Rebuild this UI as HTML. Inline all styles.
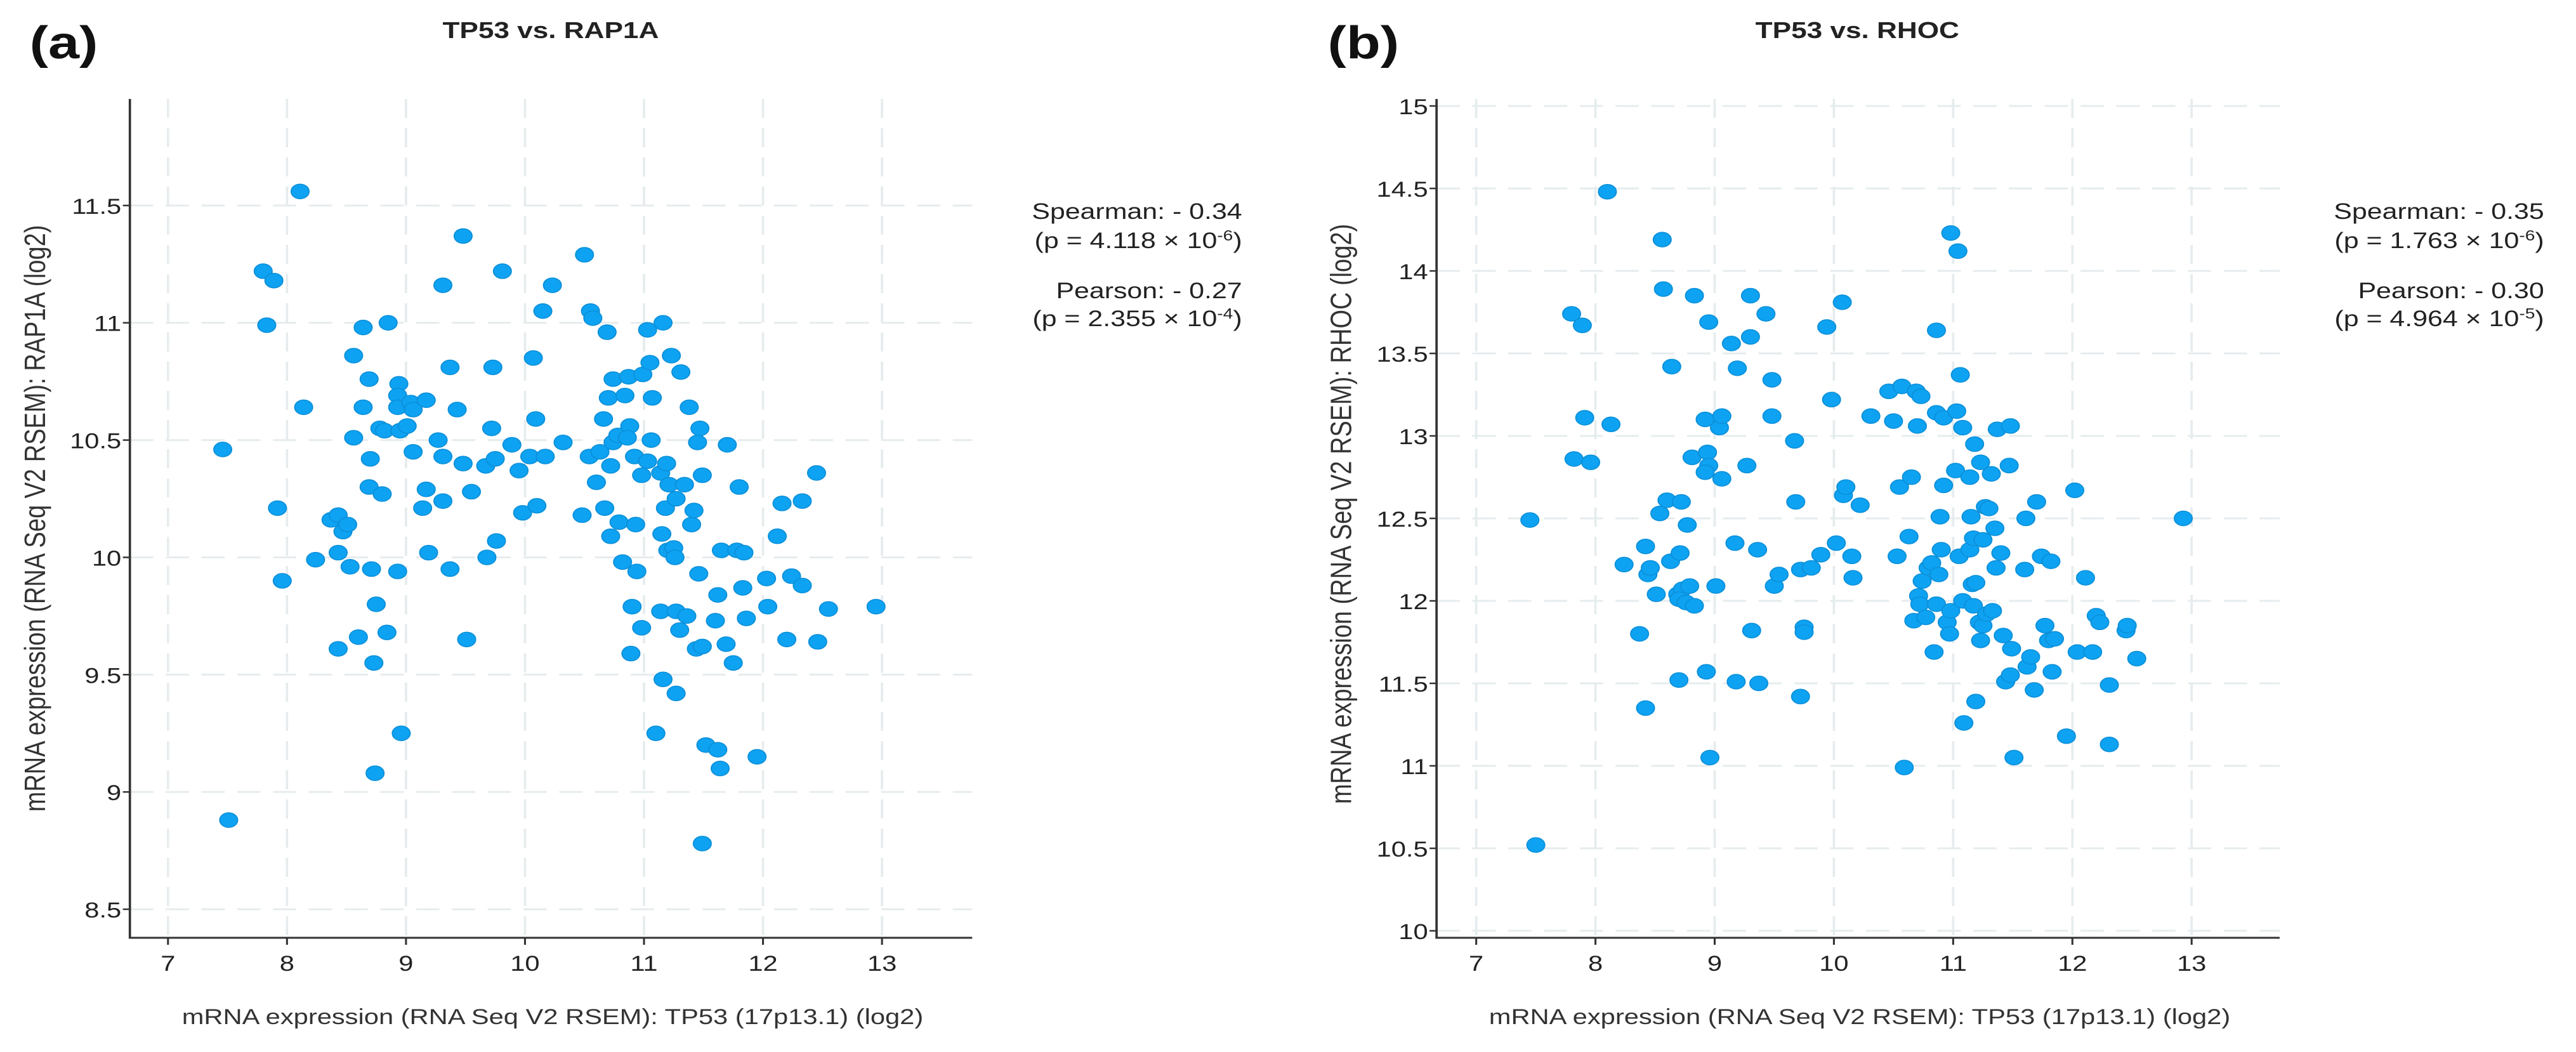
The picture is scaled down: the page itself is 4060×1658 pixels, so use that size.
<!DOCTYPE html>
<html><head><meta charset="utf-8"><style>
html,body{margin:0;padding:0;background:#fff;}
svg{display:block;font-family:"Liberation Sans",Arial,sans-serif;}
</style></head><body>
<svg id="fig" width="4060" height="1658" viewBox="0 0 3312 1658" preserveAspectRatio="none" xmlns="http://www.w3.org/2000/svg">
<rect width="3312" height="1658" fill="#fff"/>
<g id="pa"></g>
<g id="pb"></g>
</svg>
<script>
const xTicks = [7,8,9,10,11,12,13];
const yTicksA = [8.5,9,9.5,10,10.5,11,11.5];
const yTicksB = [10,10.5,11,11.5,12,12.5,13,13.5,14,14.5,15];
const xA = [8.11,7.80,7.89,7.83,8.14,7.46,7.92,7.96,7.51,8.24,8.37,8.43,8.47,8.51,8.43,8.53,8.43,8.60,8.73,8.74,8.75,8.84,8.71,8.93,8.96,8.56,8.64,8.85,8.69,8.64,8.56,8.70,8.69,8.80,8.78,8.82,8.94,8.93,8.93,8.95,9.01,9.04,9.06,9.06,9.17,9.14,9.17,9.19,9.27,9.31,9.31,9.31,9.37,9.37,9.43,9.48,9.48,9.55,9.51,9.67,9.75,9.73,9.72,9.81,9.76,9.68,9.89,9.95,9.98,10.04,10.07,10.09,10.10,10.17,10.15,10.23,10.32,10.48,10.50,10.55,10.57,10.54,10.60,10.63,10.66,10.69,10.70,10.72,10.74,10.72,10.67,10.74,10.78,10.79,10.84,10.87,10.82,10.88,10.86,10.92,10.93,10.99,10.94,10.90,10.89,10.98,10.98,11.03,11.05,11.03,11.06,11.07,11.10,11.16,11.14,11.19,11.15,11.18,11.20,11.14,11.16,11.23,11.21,11.25,11.27,11.27,11.31,11.26,11.27,11.30,11.34,11.36,11.38,11.40,11.42,11.45,11.47,11.49,11.46,11.44,11.49,11.52,11.49,11.62,11.62,11.64,11.60,11.69,11.65,11.70,11.75,11.78,11.80,11.83,11.84,11.86,11.95,12.03,12.04,12.12,12.16,12.20,12.24,12.33,12.33,12.45,12.46,12.55,12.95];
const yA = [11.56,11.22,11.18,10.99,10.64,10.46,10.21,9.90,8.88,9.99,10.16,10.18,10.11,10.14,10.02,9.96,9.61,9.66,9.55,9.08,9.80,9.68,9.95,9.94,9.25,10.86,10.98,11.00,10.76,10.64,10.51,10.42,10.30,10.27,10.55,10.54,10.74,10.69,10.64,10.54,10.56,10.66,10.63,10.45,10.67,10.21,10.29,10.02,10.50,10.43,10.24,11.16,10.81,9.95,10.63,11.37,10.40,10.28,9.65,10.39,10.42,10.81,10.55,11.22,10.07,10.00,10.48,10.37,10.19,10.43,10.85,10.59,10.22,10.43,11.05,11.16,10.49,10.18,11.29,11.05,11.02,10.43,10.32,10.45,10.59,10.96,10.68,10.39,10.76,10.09,10.21,10.49,10.52,10.15,10.69,10.77,9.98,10.56,10.51,10.43,10.14,10.78,9.94,9.79,9.59,9.70,10.35,10.97,10.83,10.41,10.50,10.68,9.25,11.00,10.36,10.40,10.10,10.21,10.03,9.77,9.48,10.86,10.31,10.04,9.42,10.25,10.79,10.00,9.77,9.69,10.31,9.75,10.64,10.14,10.20,10.49,10.55,10.35,9.93,9.61,9.62,9.20,8.78,9.84,9.18,9.10,9.73,9.63,10.03,10.48,9.55,10.03,10.30,9.87,10.02,9.74,9.15,9.91,9.79,10.09,10.23,9.65,9.92,10.24,9.88,10.36,9.64,9.78,9.79];
const xB = [8.10,8.56,8.57,7.80,7.89,8.64,7.91,8.13,7.82,7.96,7.45,7.50,8.24,8.37,8.42,8.42,8.44,8.46,8.51,8.54,8.60,8.72,8.77,8.63,8.71,8.69,8.73,8.70,8.76,8.79,8.83,8.81,8.83,8.70,8.93,8.96,8.92,8.94,8.95,8.92,8.95,9.01,9.04,9.06,9.06,9.14,9.19,9.17,9.18,9.27,9.30,9.30,9.31,9.36,9.37,9.43,9.48,9.48,9.50,9.54,9.67,9.68,9.72,9.72,9.75,9.75,9.81,9.89,9.94,9.98,10.02,10.07,10.08,10.10,10.15,10.16,10.22,10.31,10.46,10.50,10.53,10.55,10.57,10.59,10.63,10.65,10.67,10.69,10.70,10.73,10.71,10.72,10.74,10.77,10.79,10.82,10.84,10.86,10.86,10.86,10.88,10.89,10.90,10.92,10.92,10.95,10.97,10.98,10.98,11.02,11.03,11.04,11.05,11.06,11.08,11.08,11.09,11.14,11.14,11.15,11.16,11.17,11.17,11.18,11.19,11.19,11.22,11.23,11.23,11.25,11.25,11.27,11.28,11.30,11.32,11.33,11.35,11.36,11.37,11.40,11.42,11.44,11.47,11.48,11.48,11.49,11.51,11.60,11.61,11.62,11.65,11.68,11.70,11.74,11.77,11.80,11.82,11.83,11.85,11.95,12.02,12.04,12.11,12.17,12.20,12.23,12.31,12.31,12.45,12.46,12.54,12.93];
const yB = [14.48,14.19,13.89,13.74,13.67,13.42,13.11,13.07,12.86,12.84,12.49,10.52,12.22,11.80,11.35,12.33,12.16,12.20,12.04,12.53,12.61,12.60,12.46,12.24,12.29,12.04,12.07,12.01,11.99,12.09,11.97,12.87,13.85,11.52,11.57,11.05,13.10,12.90,12.82,12.78,13.69,12.09,13.05,13.12,12.74,13.56,13.41,12.35,11.51,12.82,13.85,13.60,11.82,12.31,11.50,13.74,13.34,13.12,12.09,12.16,12.97,12.60,11.42,12.19,11.84,11.81,12.20,12.28,13.66,13.22,12.35,13.81,12.64,12.69,12.27,12.14,12.58,13.12,13.27,13.09,12.27,12.69,13.30,10.99,12.39,12.75,11.88,13.27,13.06,13.24,12.03,11.98,12.12,11.90,12.20,12.23,11.69,13.64,13.14,11.98,12.16,12.51,12.31,12.70,13.11,11.87,11.80,14.23,11.94,12.79,13.15,14.12,12.27,13.37,13.05,12.00,11.26,12.31,12.75,12.51,12.10,11.97,12.38,12.95,12.11,11.39,11.87,12.84,11.76,12.37,11.85,12.57,11.92,12.56,12.77,11.94,12.44,12.20,13.04,12.29,11.79,11.51,12.82,13.06,11.55,11.71,11.05,12.19,12.50,11.60,11.66,11.46,12.60,12.27,11.85,11.76,12.24,11.57,11.77,11.18,12.67,11.69,12.14,11.69,11.91,11.87,11.49,11.13,11.82,11.85,11.65,12.50];

const NS='http://www.w3.org/2000/svg';
function mk(parent, tag, attrs, text){
  const el=document.createElementNS(NS,tag);
  for(const k in attrs) el.setAttribute(k, attrs[k]);
  if(text!==undefined) el.textContent=text;
  parent.appendChild(el); return el;
}
function panel(g, cfg){
  const sx=v=>cfg.x0+(v-cfg.xmin)*cfg.xs;
  const sy=v=>cfg.y0-(v-cfg.ymin)*cfg.ys;
  for(const t of xTicks){
    const l=mk(g,'line',{x1:sx(t),x2:sx(t),y1:cfg.top,y2:cfg.axY,stroke:'#e6ecee','stroke-width':3,'stroke-dasharray':'30 16'});
    
    
  }
  for(const t of cfg.yTicks){
    const l=mk(g,'line',{x1:cfg.axX,x2:cfg.right,y1:sy(t),y2:sy(t),stroke:'#e6ecee','stroke-width':3,'stroke-dasharray':'30 16'});
    
    
  }
  for(let i=0;i<cfg.xs_.length;i++){
    const c=mk(g,'circle',{cx:sx(cfg.xs_[i]),cy:sy(cfg.ys_[i]),r:11.5,fill:'#0ea2f2',stroke:'#0b8fd8','stroke-width':1.5});
    
    
  }
  const ax=mk(g,'path',{d:`M${cfg.axX} ${cfg.top} V${cfg.axY} H${cfg.right}`,stroke:'#333',fill:'none','stroke-width':3});
  
  
  for(const t of xTicks){
    mk(g,'line',{x1:sx(t),x2:sx(t),y1:cfg.axY,y2:cfg.axY+11,stroke:'#333','stroke-width':2.5});
    const tx=mk(g,'text',{x:sx(t),y:cfg.axY+52,'font-size':34,'text-anchor':'middle',fill:'#222'},String(t));
    
    
  }
  for(const t of cfg.yTicks){
    mk(g,'line',{x1:cfg.axX-9,x2:cfg.axX,y1:sy(t),y2:sy(t),stroke:'#333','stroke-width':2.5});
    const tx=mk(g,'text',{x:cfg.axX-11,y:sy(t)+13,'font-size':34,'text-anchor':'end',fill:'#222'},String(t));
    
    
  }
  const ti=mk(g,'text',{x:cfg.titleX,y:60,'font-size':36,'font-weight':'bold','text-anchor':'middle',fill:'#222'},cfg.title);
  
  
  const pl=mk(g,'text',{x:cfg.labX,y:92,'font-size':72,'font-weight':'bold',fill:'#111'},cfg.lab);
  
  
  const xt=mk(g,'text',{x:(cfg.axX+cfg.right)/2+2,y:1614,'font-size':34,'text-anchor':'middle',fill:'#333'},'mRNA expression (RNA Seq V2 RSEM): TP53 (17p13.1) (log2)');
  
  
  const yt=mk(g,'text',{x:0,y:0,'font-size':38,'text-anchor':'middle',fill:'#333',transform:`translate(${cfg.yTitleX},${cfg.yTitleY}) rotate(-90)`},cfg.ytitle);
  
  
  const ys=[345,391,470,514];
  cfg.stats.forEach((s,i)=>{
    const t=mk(g,'text',{x:cfg.statX,y:ys[i],'font-size':35,'text-anchor':'end',fill:'#222'});
    
    
    if(i%2===0){ t.textContent=s; }
    else {
      t.appendChild(document.createTextNode('(p = '+s[0]+' \u00d7 10'));
      mk(t,'tspan',{dy:-12,'font-size':23},s[1]);
      mk(t,'tspan',{dy:12},')');
    }
  });
}
panel(document.getElementById('pa'),{
  xmin:7,xs:153,x0:216,ymin:8.5,ys:369.7,y0:1433,
  axX:167,axY:1478,top:156,right:1250,yTicks:yTicksA,xs_:xA,ys_:yA,
  title:'TP53 vs. RAP1A',titleX:708,lab:'(a)',labX:38,
  ytitle:'mRNA expression (RNA Seq V2 RSEM):  RAP1A (log2)',yTitleX:58,yTitleY:817,
  statX:1597,stats:['Spearman: - 0.34',['4.118','-6'],'Pearson: - 0.27',['2.355','-4']]
});
panel(document.getElementById('pb'),{
  xmin:7,xs:153.3,x0:1898,ymin:10,ys:260,y0:1467,
  axX:1847,axY:1478,top:156,right:2931,yTicks:yTicksB,xs_:xB,ys_:yB,
  title:'TP53 vs. RHOC',titleX:2388,lab:'(b)',labX:1707,
  ytitle:'mRNA expression (RNA Seq V2 RSEM):  RHOC (log2)',yTitleX:1737,yTitleY:810,
  statX:3271,stats:['Spearman: - 0.35',['1.763','-6'],'Pearson: - 0.30',['4.964','-5']]
});
</script>
</body></html>
